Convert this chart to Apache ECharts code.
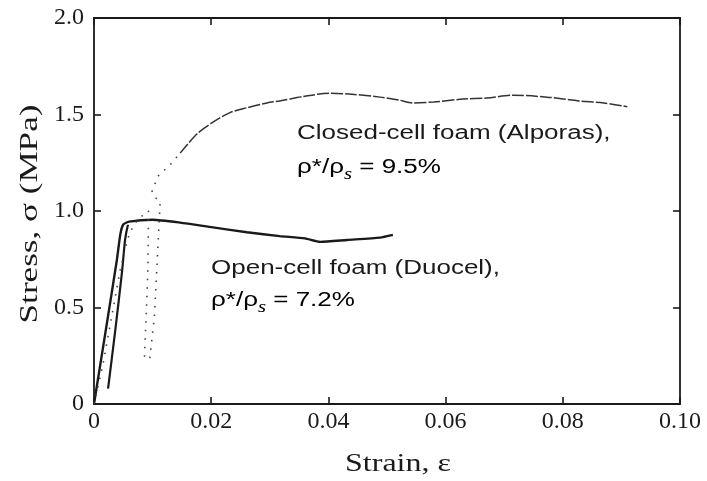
<!DOCTYPE html>
<html>
<head>
<meta charset="utf-8">
<script src="https://cdn.jsdelivr.net/npm/echarts@6/dist/echarts.min.js"></script>
<style>
html,body{margin:0;padding:0;background:#fff;}
#chart{width:707px;height:481px;}
</style>
</head>
<body>
<div id="chart"></div>
<script>
// Strain (x) and stress in MPa (y) for the two aluminium foams
const xTicks = [0, 0.02, 0.04, 0.06, 0.08, 0.10];
const yTicks = [0, 0.5, 1.0, 1.5, 2.0];
const xTitle = 'Strain, ε';
const yTitle = 'Stress, σ (MPa)';

// Open-cell foam (Duocel): loading curve and plateau
const openStrain = [0, 0.002, 0.0039, 0.0045, 0.005, 0.006, 0.010, 0.0147, 0.0203, 0.0261, 0.0317, 0.036, 0.0386, 0.0432, 0.0488, 0.051];
const openStress = [0, 0.38, 0.746, 0.88, 0.93, 0.945, 0.955, 0.94, 0.915, 0.89, 0.87, 0.858, 0.84, 0.85, 0.862, 0.876];
// Open-cell foam: unload/reload branch
const openReloadStrain = [0.0024, 0.0037, 0.0048, 0.0053, 0.0058];
const openReloadStress = [0.08, 0.40, 0.69, 0.85, 0.93];

// Closed-cell foam (Alporas): early loading with unload/reload loop (sparse points)
const closedEarlyStrain = [0, 0.0015, 0.003, 0.0045, 0.0058, 0.0068, 0.008, 0.0093, 0.0092, 0.0089, 0.0086, 0.0095, 0.0103, 0.0108, 0.0113, 0.0104, 0.0099, 0.0109, 0.013, 0.0147];
const closedEarlyStress = [0, 0.2, 0.45, 0.7, 0.86, 0.93, 0.97, 1.0, 0.7, 0.45, 0.25, 0.23, 0.45, 0.75, 1.05, 1.07, 1.10, 1.18, 1.24, 1.30];
// Closed-cell foam: plateau
const closedStrain = [0.0147, 0.0176, 0.0203, 0.0232, 0.0261, 0.0295, 0.0317, 0.036, 0.0403, 0.044, 0.0488, 0.052, 0.0544, 0.058, 0.063, 0.067, 0.0715, 0.0773, 0.0829, 0.087, 0.091];
const closedStress = [1.30, 1.40, 1.46, 1.51, 1.535, 1.56, 1.57, 1.595, 1.61, 1.605, 1.59, 1.575, 1.56, 1.565, 1.58, 1.585, 1.60, 1.59, 1.57, 1.56, 1.54];

const zip = (xs, ys) => xs.map((x, i) => [x, ys[i]]);

const serif = '"Liberation Serif", "Times New Roman", serif';
const sans = '"Liberation Sans", Arial, Helvetica, sans-serif';
const ink = '#1a1a1a';

const chart = echarts.init(document.getElementById('chart'), null, {renderer: 'canvas'});

const axisCommon = {
  type: 'value',
  axisLine: {show: true, onZero: false, lineStyle: {color: ink, width: 1.8}},
  axisTick: {show: true, inside: true, length: 7, lineStyle: {color: ink, width: 1.6}},
  splitLine: {show: false}
};

// Wide-set caption text with a subscripted density ratio
const captionRich = {
  a: {fontFamily: sans, fontSize: 20, color: ink, lineHeight: 26, verticalAlign: 'top'},
  s: {fontFamily: serif, fontSize: 16, fontStyle: 'italic', color: ink, lineHeight: 26, verticalAlign: 'bottom', padding: [11, 0, 0, 0]}
};
const caption = (x, y, text, rich) => ({
  type: 'text', x: x, y: y, scaleX: 1.3, originX: 0, originY: 0,
  style: rich
    ? {text: text, rich: captionRich, align: 'left', verticalAlign: 'top'}
    : {text: text, font: '20px ' + sans, fill: ink, align: 'left', verticalAlign: 'top'}
});

const option = {
  animation: false,
  backgroundColor: '#fff',
  grid: {left: 94, right: 27, top: 18, bottom: 77, containLabel: false},
  xAxis: [
    Object.assign({}, axisCommon, {
      min: xTicks[0], max: xTicks[xTicks.length - 1], interval: 0.02,
      position: 'bottom',
      axisLabel: {
        fontFamily: serif, fontSize: 24, color: ink, margin: 6,
        formatter: v => v === 0 ? '0' : v.toFixed(2)
      }
    }),
    Object.assign({}, axisCommon, {
      min: xTicks[0], max: xTicks[xTicks.length - 1], interval: 0.02,
      position: 'top', axisLabel: {show: false}
    })
  ],
  yAxis: [
    Object.assign({}, axisCommon, {
      min: yTicks[0], max: yTicks[yTicks.length - 1], interval: 0.5,
      position: 'left',
      axisLabel: {
        fontFamily: serif, fontSize: 24, color: ink, margin: 10,
        formatter: v => v === 0 ? '0' : v.toFixed(1)
      }
    }),
    Object.assign({}, axisCommon, {
      min: yTicks[0], max: yTicks[yTicks.length - 1], interval: 0.5,
      position: 'right', axisLabel: {show: false}
    })
  ],
  series: [
    {
      name: 'Open-cell foam (Duocel)', type: 'line', data: zip(openStrain, openStress),
      showSymbol: false, smooth: 0.2, lineStyle: {color: ink, width: 2.4}
    },
    {
      name: 'Open-cell reload', type: 'line', data: zip(openReloadStrain, openReloadStress),
      showSymbol: false, smooth: 0.2, lineStyle: {color: ink, width: 2.2}
    },
    {
      name: 'Closed-cell early', type: 'line', data: zip(closedEarlyStrain, closedEarlyStress),
      showSymbol: false, lineStyle: {color: '#444', width: 1.6, type: [1.5, 7]}
    },
    {
      name: 'Closed-cell foam (Alporas)', type: 'line', data: zip(closedStrain, closedStress),
      showSymbol: false, smooth: 0.3, lineStyle: {color: '#333', width: 1.5, type: [12, 2]}
    }
  ],
  graphic: [
    // axis titles
    {
      type: 'text', x: 398, y: 464, scaleX: 1.28, originX: 0, originY: 0,
      style: {text: xTitle, font: '25px ' + serif, fill: ink, align: 'center', verticalAlign: 'middle'}
    },
    {
      type: 'text', x: 30, y: 214, rotation: Math.PI / 2, scaleX: 1.35, originX: 0, originY: 0,
      style: {text: yTitle, font: '26px ' + serif, fill: ink, align: 'center', verticalAlign: 'middle'}
    },
    // curve captions
    caption(297, 123, 'Closed-cell foam (Alporas),', false),
    caption(297, 157, '{a|ρ*/ρ}{s|s}{a| = 9.5%}', true),
    caption(211, 258, 'Open-cell foam (Duocel),', false),
    caption(211, 290, '{a|ρ*/ρ}{s|s}{a| = 7.2%}', true)
  ]
};

chart.setOption(option);
</script>
</body>
</html>
